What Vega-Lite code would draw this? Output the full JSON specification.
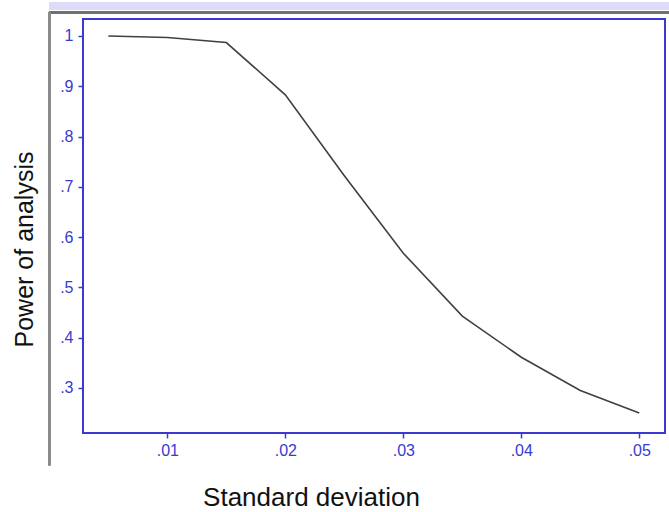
{
  "$schema": "https://vega.github.io/schema/vega-lite/v6.json",
  "width": 582,
  "height": 414,
  "autosize": "none",
  "padding": {"left": 83, "top": 19, "right": 4, "bottom": 79},
  "background": "white",
  "config": {
    "view": {"stroke": "#3a3ad0", "strokeWidth": 2},
    "font": "Liberation Sans"
  },
  "data": {
    "values": [
      {"sd": 0.005, "power": 1.0},
      {"sd": 0.01, "power": 0.997},
      {"sd": 0.015, "power": 0.987},
      {"sd": 0.02, "power": 0.883},
      {"sd": 0.025, "power": 0.722},
      {"sd": 0.03, "power": 0.568},
      {"sd": 0.035, "power": 0.443},
      {"sd": 0.04, "power": 0.361},
      {"sd": 0.045, "power": 0.295},
      {"sd": 0.05, "power": 0.25}
    ]
  },
  "layer": [
    {
      "mark": {"type": "rect", "color": "#dcdcf8", "clip": false},
      "encoding": {
        "x": {"datum": 0.0, "type": "quantitative"},
        "x2": {"datum": 0.0525},
        "y": {"datum": 1.0677, "type": "quantitative"},
        "y2": {"datum": 1.0518}
      }
    },
    {
      "mark": {"type": "rule", "color": "#707070", "strokeWidth": 2, "clip": false},
      "encoding": {
        "x": {"datum": 0.0, "type": "quantitative"},
        "x2": {"datum": 0.0525},
        "y": {"datum": 1.0468, "type": "quantitative"}
      }
    },
    {
      "mark": {"type": "rule", "color": "#8a8a8a", "strokeWidth": 2, "clip": false},
      "encoding": {
        "x": {"datum": 0.0, "type": "quantitative"},
        "y": {"datum": 1.0478, "type": "quantitative"},
        "y2": {"datum": 0.1461}
      }
    },
    {
      "mark": {"type": "line", "color": "#404040", "strokeWidth": 1.6},
      "encoding": {
        "x": {
          "field": "sd",
          "type": "quantitative",
          "title": "Standard deviation",
          "scale": {"domain": [0.00285, 0.05218], "nice": false, "zero": false},
          "axis": {
            "values": [0.01, 0.02, 0.03, 0.04, 0.05],
            "labelExpr": "replace(format(datum.value, '.2f'), '0.', '.')",
            "domain": false,
            "grid": false,
            "ticks": true,
            "tickSize": 5,
            "tickWidth": 1.5,
            "tickColor": "#3a3ad0",
            "labelColor": "#3a3ad0",
            "labelFontSize": 16,
            "labelPadding": 4,
            "labelFont": "Liberation Sans",
            "titleFont": "Liberation Sans",
            "titleFontSize": 26,
            "titleFontWeight": "normal",
            "titleColor": "#111111",
            "titleX": 228,
            "titleY": 72,
            "titleAlign": "center",
            "titleBaseline": "alphabetic"
          }
        },
        "y": {
          "field": "power",
          "type": "quantitative",
          "title": "Power of analysis",
          "scale": {"domain": [0.2104, 1.0338], "nice": false, "zero": false},
          "axis": {
            "values": [0.3, 0.4, 0.5, 0.6, 0.7, 0.8, 0.9, 1.0],
            "labelExpr": "datum.value >= 0.999 ? '1' : replace(format(datum.value, '.1f'), '0.', '.')",
            "domain": false,
            "grid": false,
            "ticks": true,
            "tickSize": 5,
            "tickWidth": 1.5,
            "tickColor": "#3a3ad0",
            "labelColor": "#3a3ad0",
            "labelFontSize": 16,
            "labelPadding": 5,
            "labelFont": "Liberation Sans",
            "titleFont": "Liberation Sans",
            "titleFontSize": 25,
            "titleFontWeight": "normal",
            "titleColor": "#111111",
            "titleAngle": -90,
            "titleX": -51,
            "titleY": 230,
            "titleAlign": "center",
            "titleBaseline": "alphabetic"
          }
        }
      }
    }
  ]
}
